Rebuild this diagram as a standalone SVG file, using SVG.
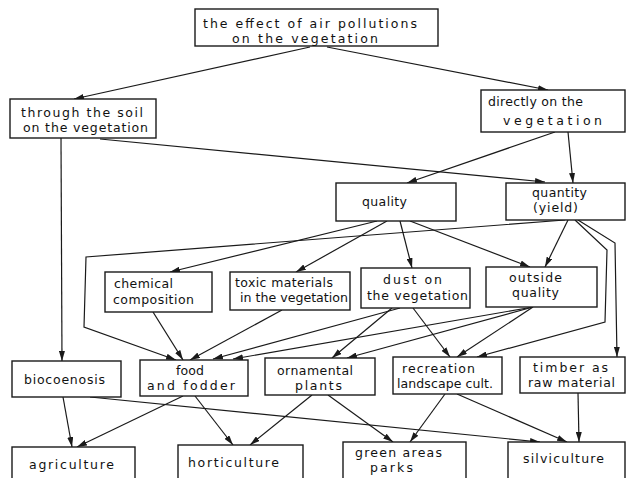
<svg xmlns="http://www.w3.org/2000/svg" width="627" height="478" viewBox="0 0 627 478">
<style>
.box{fill:#fff;stroke:#1a1a1a;stroke-width:1.4}
.t{font-family:"DejaVu Sans","Liberation Sans",sans-serif;font-size:12.5px;fill:#111}
.c{fill:none;stroke:#1a1a1a;stroke-width:1.2;marker-end:url(#ah)}
</style>
<defs>
<marker id="ah" markerUnits="userSpaceOnUse" markerWidth="10" markerHeight="6" refX="10" refY="3" orient="auto">
<path d="M0,0 L10,3 L0,6 z" fill="#1a1a1a"/>
</marker>
</defs>
<rect width="627" height="478" fill="#fff"/>
<g id="connectors">
<path class="c" d="M310,47 L74,99"/>
<path class="c" d="M327,47 L548,90"/>
<path class="c" d="M100,139 L545,182"/>
<path class="c" d="M61,138 L62,361"/>
<path class="c" d="M555,132 L407,183"/>
<path class="c" d="M568,132 L573,183"/>
<path class="c" d="M377,221 L170,272"/>
<path class="c" d="M387,221 L296,272"/>
<path class="c" d="M400,221 L412,268"/>
<path class="c" d="M410,221 L530,267"/>
<path class="c" d="M568,220 L545,267"/>
<path class="c" d="M565,220 L86,257 L84,327 L176,360"/>
<path class="c" d="M575,220 L607,250 L605,322 L477,357"/>
<path class="c" d="M578,220 L615,243 L617,357"/>
<path class="c" d="M153,312 L183,360"/>
<path class="c" d="M282,310 L190,360"/>
<path class="c" d="M400,308 L213,359"/>
<path class="c" d="M533,307 L233,359"/>
<path class="c" d="M392,308 L332,358"/>
<path class="c" d="M533,307 L347,358"/>
<path class="c" d="M413,308 L450,357"/>
<path class="c" d="M533,307 L457,357"/>
<path class="c" d="M63,397 L72,447"/>
<path class="c" d="M183,396 L77,447"/>
<path class="c" d="M195,396 L233,445"/>
<path class="c" d="M312,395 L250,445"/>
<path class="c" d="M328,395 L393,442"/>
<path class="c" d="M445,394 L410,442"/>
<path class="c" d="M457,394 L567,442"/>
<path class="c" d="M578,393 L579,442"/>
<path class="c" d="M90,397 L540,442"/>
</g>
<g id="n-effect">
<rect class="box" x="195" y="9" width="243" height="37"/>
<text class="t" x="203" y="28" textLength="214" lengthAdjust="spacing">the effect of air pollutions</text>
<text class="t" x="232" y="43" textLength="146" lengthAdjust="spacing">on the vegetation</text>
</g>
<g id="n-soil">
<rect class="box" x="10" y="99" width="146" height="39"/>
<text class="t" x="21" y="117" textLength="122" lengthAdjust="spacing">through the soil</text>
<text class="t" x="23" y="132" textLength="125" lengthAdjust="spacing">on the vegetation</text>
</g>
<g id="n-directly">
<rect class="box" x="481" y="90" width="144" height="42"/>
<text class="t" x="488" y="106" textLength="95" lengthAdjust="spacing">directly on the</text>
<text class="t" x="503" y="125" textLength="99" lengthAdjust="spacing">vegetation</text>
</g>
<g id="n-quality">
<rect class="box" x="336" y="183" width="120" height="38"/>
<text class="t" x="362" y="206" textLength="45" lengthAdjust="spacing">quality</text>
</g>
<g id="n-quantity">
<rect class="box" x="506" y="183" width="119" height="37"/>
<text class="t" x="532" y="197" textLength="55" lengthAdjust="spacing">quantity</text>
<text class="t" x="533" y="212" textLength="45" lengthAdjust="spacing">(yield)</text>
</g>
<g id="n-chemical">
<rect class="box" x="105" y="272" width="107" height="40"/>
<text class="t" x="114" y="288" textLength="59" lengthAdjust="spacing">chemical</text>
<text class="t" x="113" y="304" textLength="81" lengthAdjust="spacing">composition</text>
</g>
<g id="n-toxic">
<rect class="box" x="230" y="272" width="120" height="38"/>
<text class="t" x="235" y="287" textLength="98" lengthAdjust="spacing">toxic materials</text>
<text class="t" x="240" y="302" textLength="108" lengthAdjust="spacingAndGlyphs">in the vegetation</text>
</g>
<g id="n-dust">
<rect class="box" x="361" y="268" width="109" height="40"/>
<text class="t" x="383" y="284" textLength="59" lengthAdjust="spacing">dust on</text>
<text class="t" x="367" y="300" textLength="101" lengthAdjust="spacing">the vegetation</text>
</g>
<g id="n-outside">
<rect class="box" x="486" y="267" width="111" height="40"/>
<text class="t" x="509" y="282" textLength="53" lengthAdjust="spacing">outside</text>
<text class="t" x="512" y="297" textLength="47" lengthAdjust="spacing">quality</text>
</g>
<g id="n-biocoenosis">
<rect class="box" x="12" y="361" width="109" height="36"/>
<text class="t" x="24" y="384" textLength="81" lengthAdjust="spacing">biocoenosis</text>
</g>
<g id="n-food">
<rect class="box" x="140" y="360" width="108" height="36"/>
<text class="t" x="176" y="375" textLength="28" lengthAdjust="spacing">food</text>
<text class="t" x="147" y="390" textLength="88" lengthAdjust="spacing">and  fodder</text>
</g>
<g id="n-ornamental">
<rect class="box" x="265" y="358" width="110" height="37"/>
<text class="t" x="277" y="375" textLength="76" lengthAdjust="spacing">ornamental</text>
<text class="t" x="295" y="390" textLength="47" lengthAdjust="spacing">plants</text>
</g>
<g id="n-recreation">
<rect class="box" x="393" y="357" width="109" height="37"/>
<text class="t" x="402" y="373" textLength="73" lengthAdjust="spacing">recreation</text>
<text class="t" x="397" y="388" textLength="96" lengthAdjust="spacing">landscape cult.</text>
</g>
<g id="n-timber">
<rect class="box" x="520" y="357" width="105" height="36"/>
<text class="t" x="533" y="372" textLength="75" lengthAdjust="spacing">timber as</text>
<text class="t" x="528" y="387" textLength="87" lengthAdjust="spacing">raw material</text>
</g>
<g id="n-agriculture">
<rect class="box" x="12" y="447" width="123" height="40"/>
<text class="t" x="29" y="469" textLength="85" lengthAdjust="spacing">agriculture</text>
</g>
<g id="n-horticulture">
<rect class="box" x="178" y="445" width="125" height="42"/>
<text class="t" x="188" y="467" textLength="91" lengthAdjust="spacing">horticulture</text>
</g>
<g id="n-green">
<rect class="box" x="343" y="442" width="123" height="45"/>
<text class="t" x="355" y="457" textLength="87" lengthAdjust="spacing">green areas</text>
<text class="t" x="370" y="472" textLength="43" lengthAdjust="spacing">parks</text>
</g>
<g id="n-silviculture">
<rect class="box" x="508" y="442" width="117" height="45"/>
<text class="t" x="523" y="463" textLength="81" lengthAdjust="spacing">silviculture</text>
</g>
</svg>
